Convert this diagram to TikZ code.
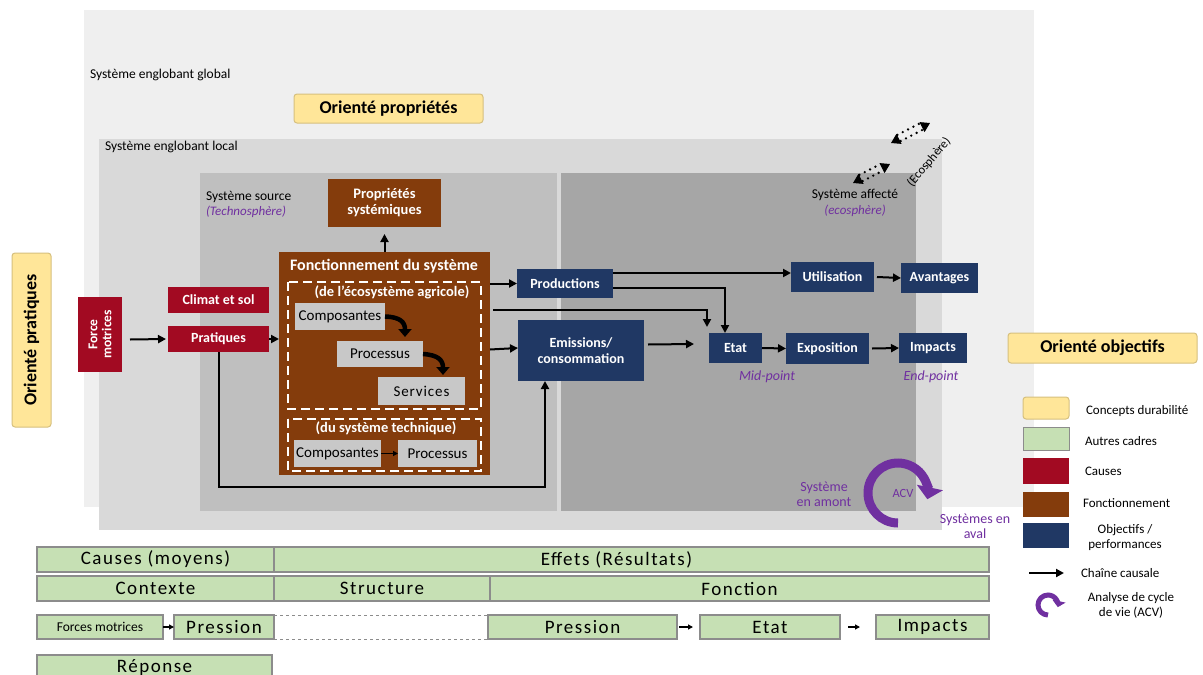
\documentclass[tikz,border=0pt]{standalone}
\usepackage{fontspec}
\setmainfont{Carlito}
\newfontfamily\barfont[LetterSpace=8]{Carlito}
\usetikzlibrary{arrows.meta,calc}
\definecolor{cred}{HTML}{A20A22}
\definecolor{cbrown}{HTML}{843C0C}
\definecolor{cnavy}{HTML}{203864}
\definecolor{cyel}{HTML}{FFE699}
\definecolor{cyelb}{HTML}{D6C07E}
\definecolor{cgreen}{HTML}{C6E0B4}
\definecolor{gbar}{HTML}{8C8C8C}
\definecolor{cpurple}{HTML}{7030A0}
\definecolor{gglob}{HTML}{EFEFEF}
\definecolor{gloc}{HTML}{D9D9D9}
\definecolor{gsrc}{HTML}{BFBFBF}
\definecolor{gaff}{HTML}{A6A6A6}
\definecolor{ginner}{HTML}{C8C8C8}
\newcommand\mybox[7]{\node[#6, minimum width={#4-#2}, minimum height={#5-#3}] (#1) at ({(#2+#4)/2},{(#3+#5)/2}) {#7};}
\begin{document}
\begin{tikzpicture}[x=1pt,y=-1pt,
  every node/.style={inner sep=1pt, outer sep=0pt},
  lbl/.style={font=\fontsize{13.5}{15}\selectfont},
  plbl/.style={font=\fontsize{13}{15}\selectfont\itshape, text=cpurple},
  yel/.style={fill=cyel, draw=cyelb, line width=1pt, rounded corners=3pt, font=\fontsize{18}{20}\selectfont\bfseries},
  redbox/.style={fill=cred, text=white, font=\fontsize{14}{15}\selectfont\bfseries, align=center},
  brownbox/.style={fill=cbrown, text=white, font=\fontsize{14.5}{16}\selectfont\bfseries, align=center},
  navybox/.style={fill=cnavy, text=white, font=\fontsize{14}{16}\selectfont\bfseries, align=center},
  graybox/.style={fill=ginner, font=\fontsize{15}{17}\selectfont},
  bar/.style={fill=cgreen, draw=gbar, line width=1.3pt, font=\barfont\fontsize{19}{21}\selectfont},
  arr/.style={draw=black, line width=2pt, -{Triangle[length=8pt,width=8pt]}},
  thinarr/.style={draw=black, line width=1.3pt, -{Triangle[length=5pt,width=5pt]}},
  curvarr/.style={draw=black, line width=4.5pt, -{Triangle[length=8pt,width=13pt]}},
  whdash/.style={draw=white, line width=2.2pt, dash pattern=on 9pt off 5pt},
  dots/.style={draw=black, line width=2.6pt, line cap=round, dash pattern=on 0pt off 6pt},
  ecotips/.style={draw=black, line width=1pt, dash pattern=on 0pt off 200pt, {Triangle[length=9pt,width=11pt]}-{Triangle[length=9pt,width=11pt]}},
  legtxt/.style={font=\fontsize{13}{15}\selectfont, anchor=west},
  acvarr/.style={draw=cpurple, line width=9pt, -{Triangle[length=12pt,width=26pt]}}
]
\useasboundingbox (0,0) rectangle (1203,675);
\fill[white] (0,0) rectangle (1203,675);

% frames
\fill[gglob] (84,10) rectangle (1034,507);
\fill[gloc] (99,139) rectangle (942,530);
\fill[gsrc] (200,173) rectangle (557,511);
\fill[gaff] (561,173) rectangle (916,511);

\node[lbl, anchor=west] (tglob) at (89,75) {Système englobant global};
\node[lbl, anchor=west] (tloc) at (104,147) {Système englobant local};
\node[lbl, anchor=west] (tsrc) at (205,197) {Système source};
\node[plbl, anchor=west] (tsrc2) at (205,212) {(Technosphère)};
\node[lbl] (taff) at (855,195) {Système affecté};
\node[plbl] (taff2) at (855,211) {(ecosphère)};

% yellow concept boxes
\mybox{oprop}{294}{94}{483}{123}{yel}{Orienté propriétés}
\node[yel, rotate=90, minimum width=174, minimum height=39] (oprat) at (31.5,340) {Orienté pratiques};
\mybox{oobj}{1008}{333}{1197}{363}{yel}{Orienté objectifs}

% causes
\node[redbox, rotate=90, minimum width=75, minimum height=44, font=\fontsize{13.5}{14}\selectfont\bfseries] (fm) at (100,334.5) {Force\\motrices};
\mybox{clim}{168}{287}{269}{313}{redbox}{Climat et sol}
\mybox{prat}{168}{326}{269}{352}{redbox}{Pratiques}

% functioning
\mybox{prop}{328}{179}{441}{227}{brownbox}{Propriétés\\systémiques}
\mybox{fonct}{279}{252}{490}{475}{fill=cbrown}{}
\node[text=white, font=\fontsize{16}{17}\selectfont\bfseries] (ftitle) at (384,266) {Fonctionnement du système};
\draw[whdash] (288,282) rectangle (481,409);
\draw[whdash] (288,419) rectangle (481,471);
\node[text=white, fill=cbrown, inner sep=0.5pt, font=\fontsize{14.5}{16}\selectfont\bfseries] (feco) at (392,292) {(de l'écosystème agricole)};
\node[text=white, fill=cbrown, inner sep=0.5pt, font=\fontsize{14.5}{16}\selectfont\bfseries] (ftech) at (386,428) {(du système technique)};
\mybox{comp}{295}{303}{385}{330}{graybox}{Composantes}
\mybox{proc}{337}{341}{423}{367}{graybox}{Processus}
\mybox{serv}{378}{377}{465}{405}{graybox}{\addfontfeature{LetterSpace=6}Services}
\mybox{comp2}{294}{440}{381}{467}{graybox}{Composantes}
\mybox{proc2}{398}{440}{477}{467}{graybox}{Processus}
\draw[curvarr] (comp.east) .. controls (400,317) and (405,322) .. ($(proc.north west)+(68,-4)$);
\draw[curvarr] (proc.east) .. controls (438,355) and (443,360) .. ($(serv.north west)+(65,-2)$);
\draw[thinarr, line width=1.8pt] (comp2.east) -- (proc2.west);

% outputs
\mybox{prod}{517}{269}{613}{298}{navybox}{Productions}
\mybox{emis}{518}{320}{644}{381}{navybox}{Emissions/\\consommation}
\mybox{etat}{709}{333}{762}{363}{navybox}{Etat}
\mybox{expo}{786}{333}{869}{364}{navybox}{Exposition}
\mybox{imp}{899}{333}{967}{363}{navybox}{Impacts}
\mybox{util}{791}{262}{874}{292}{navybox}{Utilisation}
\mybox{avan}{901}{263}{978}{293}{navybox}{Avantages}
\node[plbl, font=\fontsize{14}{16}\selectfont\itshape] (mid) at (767,377) {Mid-point};
\node[plbl, font=\fontsize{14}{16}\selectfont\itshape] (endp) at (931,377) {End-point};

% arrows
\draw[arr] (fm.south) ++(8,5) -- ($(prat.west)+(-2,0)$);
\draw[arr] (prat.east) -- (fonct.west |- prat.east);
\draw[arr] (fonct.north) -- ($(prop.south)+(0,7)$);
\coordinate (c1) at (545,487);
\draw[arr] (prat.south) |- (c1) -- (c1 |- emis.south);
\draw[arr] (fonct.east |- prod.west) -- (prod.west);
\draw[arr] ($(fonct.east)+(0,-14)$) -- ($(emis.west)+(0,-2.5)$);
\draw[arr] ($(fonct.east)+(3,-54)$) -| ($(etat.north west)+(-2,-6)$);
\draw[arr] ($(prod.east)+(0,4.5)$) -| ($(etat.north west)+(16,0)$);
\draw[arr] ($(prod.north east)+(0,4)$) -- ($(util.west)+(0,-4)$);
\draw[arr] ($(emis.east)+(4,-6)$) -- ($(etat.west)+(-15,-4)$);
\draw[arr] (etat.east) -- (expo.west);
\draw[arr] ($(expo.east)+(3,0)$) -- (imp.west);
\draw[arr] ($(util.east)+(3,0)$) -- (avan.west);

% ecosphere exchange
\coordinate (ea1) at (853,183); \coordinate (eb1) at (890,164);
\coordinate (ea2) at (891,143); \coordinate (eb2) at (930,123);
\draw[ecotips] (ea1) -- (eb1);
\draw[ecotips] (ea2) -- (eb2);
\draw[dots] (862.6,181.1) -- (883.6,170.3);
\draw[dots] (859.4,174.9) -- (880.4,164.1);
\draw[dots] (900.6,141.1) -- (923.6,129.3);
\draw[dots] (897.4,134.9) -- (920.4,123.1);
\node[font=\fontsize{12.5}{14}\selectfont, rotate=50] (ecos) at (929,162) {(Ecosphère)};

% ACV
\coordinate (acvc) at (898,493);
\draw[acvarr] ($(acvc)+(270:30pt)$) arc[start angle=270, end angle=-12, radius=30pt];
\node[plbl, font=\fontsize{12.5}{14}\selectfont] (acv) at (903,493) {ACV};
\node[plbl, font=\fontsize{14}{15}\selectfont, align=center] (amont) at (824,494) {Système\\en amont};
\node[plbl, font=\fontsize{14}{15}\selectfont, align=center] (aval) at (975,526) {Systèmes en\\aval};

% legend
\mybox{lg1}{1023}{397}{1069}{419}{fill=cyel, draw=cyelb, line width=1pt, rounded corners=3pt}{}
\mybox{lg2}{1023}{427}{1069}{450}{fill=cgreen, draw=gbar, line width=1pt}{}
\mybox{lg3}{1023}{458}{1069}{484}{fill=cred}{}
\mybox{lg4}{1023}{492}{1069}{517}{fill=cbrown}{}
\mybox{lg5}{1023}{523}{1069}{548}{fill=cnavy}{}
\node[legtxt] (l1) at (1085,411) {Concepts durabilité};
\node[legtxt] (l2) at (1084,441) {Autres cadres};
\node[legtxt] (l3) at (1084,471) {Causes};
\node[legtxt] (l4) at (1082,503) {Fonctionnement};
\node[font=\fontsize{13}{15}\selectfont, align=center] (l5) at (1125,538) {Objectifs /\\performances};
\coordinate (la1) at (1029,573); \coordinate (la2) at (1064,573);
\draw[arr] (la1) -- (la2);
\node[legtxt] (l6) at (1080,573) {Chaîne causale};
\coordinate (lacv) at (1048,605);
\draw[draw=cpurple, line width=5pt, -{Triangle[length=6pt,width=13pt]}] ($(lacv)+(270:10pt)$) arc[start angle=270, end angle=-12, radius=10pt];
\node[font=\fontsize{13}{15}\selectfont, align=center] (l7) at (1131,605) {Analyse de cycle\\de vie (ACV)};

% bottom bars
\mybox{b1}{37}{547}{274}{572}{bar}{Causes (moyens)}
\mybox{b2}{274}{547}{989}{572}{bar}{\hspace*{-30pt}Effets (Résultats)}
\mybox{b3}{37}{576}{274}{601}{bar}{Contexte}
\mybox{b4}{274}{576}{490}{601}{bar}{Structure}
\mybox{b5}{490}{576}{989}{601}{bar}{Fonction}
\mybox{b6}{37}{615}{163}{639}{bar, font=\fontsize{13.5}{15}\selectfont}{Forces motrices}
\mybox{b7}{174}{615}{274}{639}{bar}{Pression}
\mybox{b8}{488}{615}{677}{639}{bar}{Pression}
\mybox{b9}{700}{615}{840}{639}{bar}{Etat}
\mybox{b10}{876}{615}{989}{639}{bar}{Impacts}
\mybox{b11}{37}{655}{272}{681}{bar}{Réponse}
\draw[thinarr] (b6.east) -- (b7.west);
\draw[thinarr] ($(b8.east)+(2,0)$) -- ($(b9.west)+(-7,0)$);
\draw[thinarr] ($(b9.east)+(8,0)$) -- ($(b10.west)+(-16,0)$);
\draw[gbar, line width=0.7pt, dashed] (b7.north east) -- (b8.north west);
\draw[gbar, line width=0.7pt, dashed] (b7.south east) -- (b8.south west);
\end{tikzpicture}
\end{document}
